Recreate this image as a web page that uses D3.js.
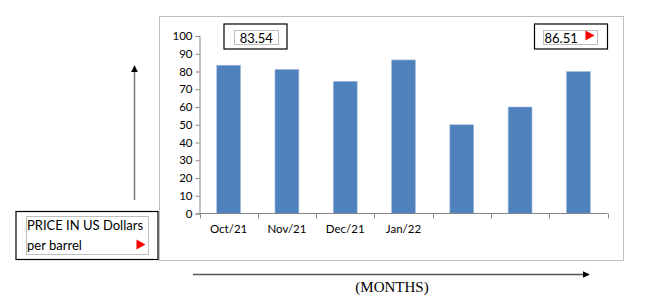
<!DOCTYPE html>
<html><head><meta charset="utf-8">
<script src="https://cdn.jsdelivr.net/npm/d3@7"></script>
<style>body{margin:0;background:#fff}svg{display:block}</style>
</head><body>
<svg id="c" width="646" height="296"></svg>
<script>
const categories = ["Oct/21","Nov/21","Dec/21","Jan/22","m5","m6","m7"];
const tickLabels = ["Oct/21","Nov/21","Dec/21","Jan/22","","",""];
const prices = [83.54, 81.2, 74.5, 86.51, 50, 60, 80];
const yTicks = [0,10,20,30,40,50,60,70,80,90,100];
const firstValue = "83.54";
const peakValue = "86.51";
const yTitle = ["PRICE IN US Dollars","per barrel"];
const xTitle = "(MONTHS)";

const svg = d3.select("#c");
const font = "Lato, 'Open Sans', sans-serif";

// chart frame
svg.append("rect").attr("x",159.5).attr("y",16.5).attr("width",464).attr("height",244)
  .attr("fill","#fff").attr("stroke","#bfbfbf").attr("stroke-width",1);

const x = d3.scaleBand().domain(categories).range([199.5,607.5]).paddingInner(0.59).paddingOuter(0.295);
const y = d3.scaleLinear().domain([0,100]).range([213.5,36]);

svg.append("g").selectAll("rect").data(prices).join("rect")
  .attr("x",(d,i)=>x(categories[i]))
  .attr("width",x.bandwidth())
  .attr("y",d=>y(d))
  .attr("height",d=>y(0)-y(d))
  .attr("fill","#4f81bd")
  .attr("stroke","#a9c0de").attr("stroke-width",0.6);

// y axis
const ya = svg.append("g").attr("transform","translate(199.5,0)")
  .call(d3.axisLeft(y).tickValues(yTicks).tickSize(4).tickPadding(3));
ya.select(".domain").attr("stroke","#868686");
ya.selectAll(".tick line").attr("stroke","#868686");
ya.selectAll("text").attr("font-family",font).attr("font-size",11.5).attr("fill","#000");

// x axis with boundary ticks
const xa = svg.append("g").attr("transform","translate(0,213.5)");
xa.append("line").attr("x1",199.5).attr("x2",607.5).attr("stroke","#868686");
const step = x.step();
const bounds = d3.range(categories.length+1).map(i=>x(categories[0]) - x.bandwidth()*0 - (x(categories[0])-199.5) + i*step);
xa.selectAll("line.t").data(bounds).join("line").attr("class","t")
  .attr("x1",d=>Math.round(d)+0.5).attr("x2",d=>Math.round(d)+0.5).attr("y1",0).attr("y2",5).attr("stroke","#868686");
xa.selectAll("text").data(tickLabels).join("text")
  .attr("x",(d,i)=>x(categories[i])+x.bandwidth()/2)
  .attr("y",19.5).attr("text-anchor","middle")
  .attr("font-family",font).attr("font-size",11.5).attr("fill","#000").text(d=>d);

// value boxes
function box(ox,oy,ow,oh,ix,iy,iw,ih){
  svg.append("rect").attr("x",ox).attr("y",oy).attr("width",ow).attr("height",oh)
    .attr("fill","#fff").attr("stroke","#000").attr("stroke-width",1.2);
  svg.append("rect").attr("x",ix).attr("y",iy).attr("width",iw).attr("height",ih)
    .attr("fill","none").attr("stroke","#bfbfbf").attr("stroke-width",1);
}
function tri(cx,cy){
  svg.append("path").attr("d",`M${cx-4.5},${cy-5}L${cx+4.5},${cy}L${cx-4.5},${cy+5}Z`).attr("fill","#ff0000");
}
box(224,24,63,25,234.5,30.5,44,14);
svg.append("text").attr("x",256.3).attr("y",42.5).attr("text-anchor","middle")
  .attr("font-family",font).attr("font-size",13).text(firstValue);

box(534.5,24,73,25,543.5,30.5,54,14);
svg.append("text").attr("x",544.5).attr("y",42.5)
  .attr("font-family",font).attr("font-size",13).text(peakValue);
tri(590,35.5);

// y title box
box(16,211.5,142,48,26.5,216.5,122,38);
svg.append("text").attr("x",27).attr("y",229.5).attr("font-family",font).attr("font-size",13).text(yTitle[0]);
svg.append("text").attr("x",27).attr("y",250).attr("font-family",font).attr("font-size",13).text(yTitle[1]);
tri(141,244.5);

// arrows
const defs = svg.append("defs");
defs.append("marker").attr("id","ah").attr("viewBox","0 0 10 10").attr("refX",9).attr("refY",5)
  .attr("markerWidth",7).attr("markerHeight",7).attr("markerUnits","userSpaceOnUse").attr("orient","auto")
  .append("path").attr("d","M0,0L10,5L0,10Z").attr("fill","#000");
svg.append("line").attr("x1",134.5).attr("y1",200).attr("x2",134.5).attr("y2",66)
  .attr("stroke","#777").attr("stroke-width",1.5).attr("marker-end","url(#ah)");
svg.append("line").attr("x1",193).attr("y1",274.5).attr("x2",589).attr("y2",274.5)
  .attr("stroke","#555").attr("stroke-width",1.5).attr("marker-end","url(#ah)");
svg.append("text").attr("x",392).attr("y",292).attr("text-anchor","middle")
  .attr("font-family","'Liberation Serif', serif").attr("font-size",15).text(xTitle);
</script>
</body></html>
